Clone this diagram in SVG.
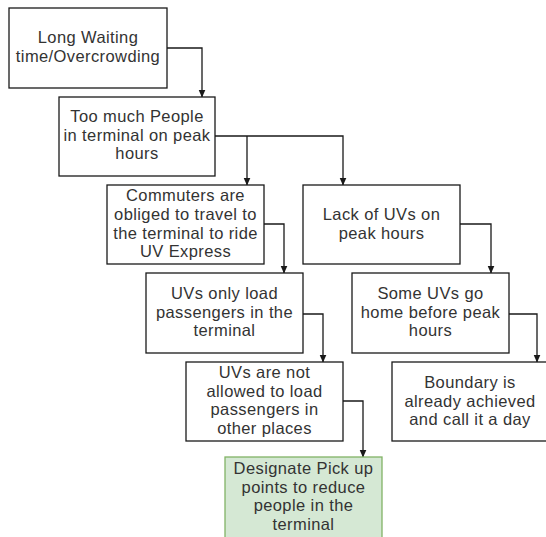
<svg xmlns="http://www.w3.org/2000/svg" width="546" height="537" viewBox="0 0 546 537">
  <style>
    .box { fill: #ffffff; stroke: #1a1a1a; stroke-width: 1.3; }
    .green { fill: #d5e8d4; stroke: #82b366; stroke-width: 1.3; }
    .lbl { font-family: "Liberation Sans", Arial, sans-serif; font-size: 16.5px; letter-spacing: 0.4px; fill: #333333; text-anchor: middle; }
    .edge { fill: none; stroke: #1a1a1a; stroke-width: 1.3; }
  </style>
  <defs>
    <marker id="arrow" viewBox="0 0 8 8" refX="7.5" refY="4" markerWidth="8" markerHeight="8" markerUnits="userSpaceOnUse" orient="auto">
      <path d="M0,0.5 L8,4 L0,7.5 Z" fill="#1a1a1a"/>
    </marker>
  </defs>
  <rect width="546" height="537" fill="#ffffff"/>

  <g id="connectors">
    <path class="edge" d="M167,48 H202 V97" marker-end="url(#arrow)"/>
    <path class="edge" d="M215,136 H343 V185" marker-end="url(#arrow)"/>
    <path class="edge" d="M247,136 V185" marker-end="url(#arrow)"/>
    <path class="edge" d="M264,224 H284 V273" marker-end="url(#arrow)"/>
    <path class="edge" d="M460,224 H491 V273" marker-end="url(#arrow)"/>
    <path class="edge" d="M303,314 H323 V362" marker-end="url(#arrow)"/>
    <path class="edge" d="M509,314 H537 V362" marker-end="url(#arrow)"/>
    <path class="edge" d="M343,401 H363 V457" marker-end="url(#arrow)"/>
  </g>

  <g id="long-waiting">
    <rect class="box" x="9" y="8" width="158" height="80"/>
    <text class="lbl" x="88" y="43">Long Waiting</text>
    <text class="lbl" x="88" y="62">time/Overcrowding</text>
  </g>

  <g id="too-much-people">
    <rect class="box" x="59" y="97" width="156" height="79"/>
    <text class="lbl" x="137" y="122">Too much People</text>
    <text class="lbl" x="137" y="140.5">in terminal on peak</text>
    <text class="lbl" x="137" y="159">hours</text>
  </g>

  <g id="commuters">
    <rect class="box" x="107" y="185" width="157" height="79"/>
    <text class="lbl" x="185.5" y="201">Commuters are</text>
    <text class="lbl" x="185.5" y="220">obliged to travel to</text>
    <text class="lbl" x="185.5" y="238.5">the terminal to ride</text>
    <text class="lbl" x="185.5" y="257">UV Express</text>
  </g>

  <g id="lack-of-uvs">
    <rect class="box" x="303" y="185" width="157" height="79"/>
    <text class="lbl" x="381.5" y="220">Lack of UVs on</text>
    <text class="lbl" x="381.5" y="238.5">peak hours</text>
  </g>

  <g id="uvs-only-load">
    <rect class="box" x="146" y="273" width="157" height="80"/>
    <text class="lbl" x="224.5" y="298.5">UVs only load</text>
    <text class="lbl" x="224.5" y="317.5">passengers in the</text>
    <text class="lbl" x="224.5" y="336">terminal</text>
  </g>

  <g id="some-uvs-go-home">
    <rect class="box" x="352" y="273" width="157" height="80"/>
    <text class="lbl" x="430.5" y="298.5">Some UVs go</text>
    <text class="lbl" x="430.5" y="317.5">home before peak</text>
    <text class="lbl" x="430.5" y="336">hours</text>
  </g>

  <g id="uvs-not-allowed">
    <rect class="box" x="186" y="362" width="157" height="79"/>
    <text class="lbl" x="264.5" y="377.5">UVs are not</text>
    <text class="lbl" x="264.5" y="396.5">allowed to load</text>
    <text class="lbl" x="264.5" y="415">passengers in</text>
    <text class="lbl" x="264.5" y="434">other places</text>
  </g>

  <g id="boundary">
    <rect class="box" x="392" y="362" width="156" height="79"/>
    <text class="lbl" x="470" y="388">Boundary is</text>
    <text class="lbl" x="470" y="407">already achieved</text>
    <text class="lbl" x="470" y="425">and call it a day</text>
  </g>

  <g id="designate-pickup">
    <rect class="green" x="225" y="457" width="157" height="90"/>
    <text class="lbl" x="303.5" y="473.5">Designate Pick up</text>
    <text class="lbl" x="303.5" y="492.5">points to reduce</text>
    <text class="lbl" x="303.5" y="511">people in the</text>
    <text class="lbl" x="303.5" y="530">terminal</text>
  </g>
</svg>
